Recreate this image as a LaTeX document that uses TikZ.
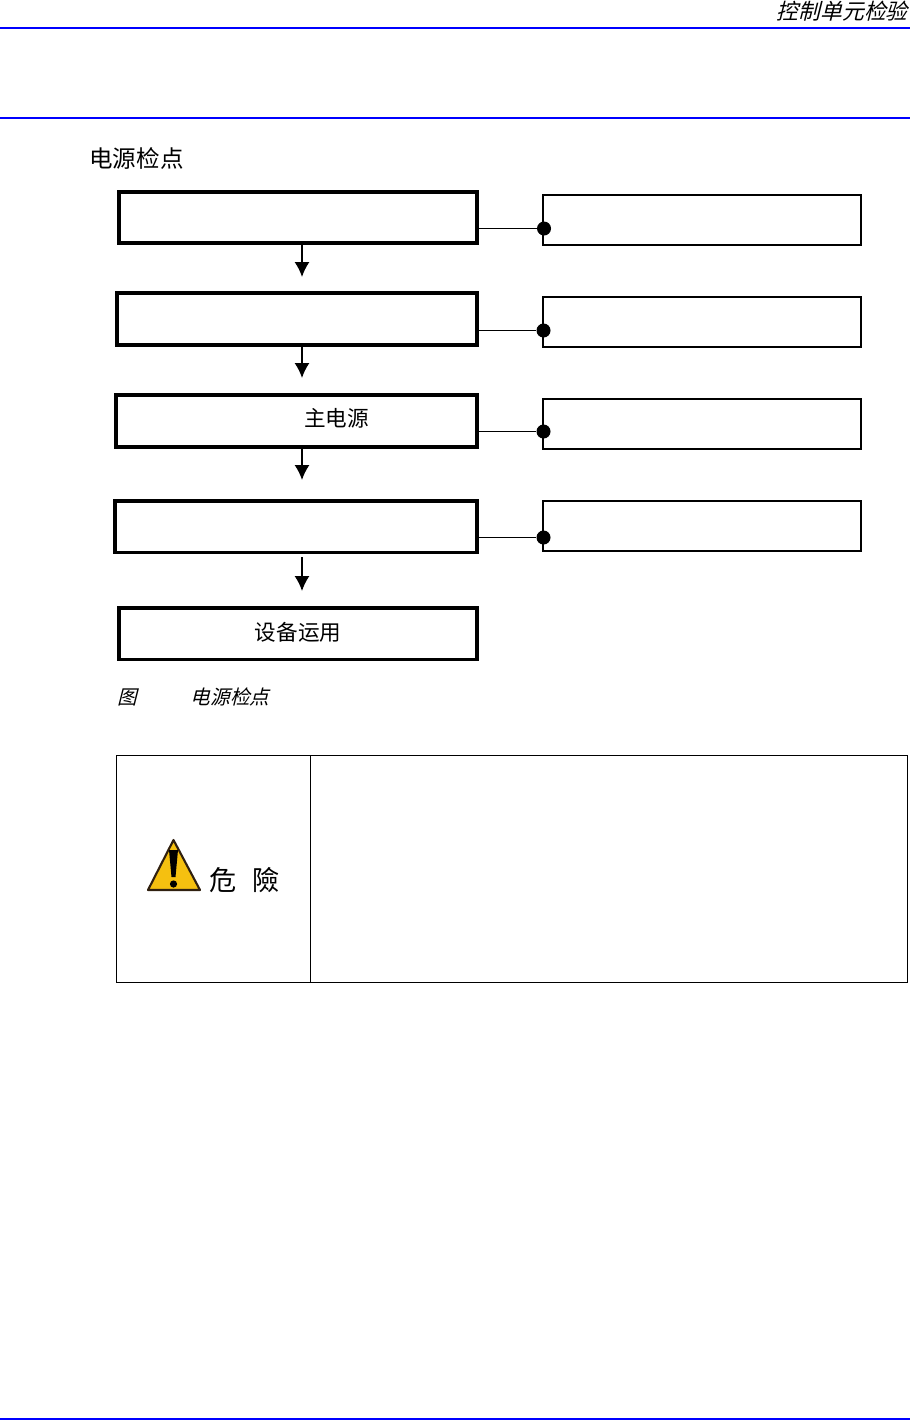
\documentclass[tikz,border=0pt]{standalone}
\usepackage{fontspec}
\setmainfont{Noto Sans CJK SC}
\newfontfamily\cjkslant[FakeSlant=0.25]{Noto Sans CJK SC}
\usetikzlibrary{arrows.meta}
\usetikzlibrary{calc}

\tikzset{
	boxsize/.style 2 args={minimum width=#1*0.02cm, minimum height=#2*0.02cm, inner sep=0pt},
	mainbox/.style={draw, line width=2pt},
	sidebox/.style={draw, line width=1.1pt},
	cellbox/.style={draw, line width=0.55pt},
	pointdot/.style={circle, fill=black, inner sep=0pt, minimum size=14*0.02cm},
	joinline/.style={line width=0.55pt},
	flowline/.style={line width=0.9pt, -{Latex[length=8.5pt, width=8.5pt]}},
	rule/.style={blue, line width=1.2pt},
	boxtext/.style={inner sep=0pt, font=\fontsize{12.3pt}{14pt}\selectfont},
}

\begin{document}
\begin{tikzpicture}[x=0.02cm, y=-0.02cm]
	\useasboundingbox (0,0) rectangle (910,1420);
	
	% page rules
	\coordinate (L1) at (0,28);
	\coordinate (R1) at (910,28);
	\coordinate (L2) at (0,118);
	\coordinate (R2) at (910,118);
	\coordinate (L3) at (0,1419);
	\coordinate (R3) at (910,1419);
	\draw[rule] (L1) -- (R1);
	\draw[rule] (L2) -- (R2);
	\draw[rule] (L3) -- (R3);
	
	% header and title
	\node[boxtext, anchor=east, font=\cjkslant\fontsize{12.4pt}{14pt}\selectfont] (head) at (908,11) {控制单元检验};
	\node[boxtext, font=\fontsize{13.4pt}{15pt}\selectfont] (title) at (136.5,158.5) {电源检点};
	
	% main boxes
	\node[mainbox, boxsize={358.5}{51.5}] (step1) at (298,217.5) {};
	\node[mainbox, boxsize={360.5}{51.5}] (step2) at (297,319) {};
	\node[mainbox, boxsize={361.5}{51.5}] (step3) at (296.5,421) {};
	\node[mainbox, boxsize={362.5}{51.5}] (step4) at (296,526.5) {};
	\node[mainbox, boxsize={358.5}{51.5}] (step5) at (298,633.5) {};
	\node[boxtext] (mainpower) at (336.5,418) {主电源};
	\node[boxtext] (running) at (298,632) {设备运用};
	
	% side boxes
	\node[sidebox, boxsize={318}{50}] (side1) at (702,220.3) {};
	\node[sidebox, boxsize={318}{50.5}] (side2) at (702,321.8) {};
	\node[sidebox, boxsize={318}{50.5}] (side3) at (702,423.8) {};
	\node[sidebox, boxsize={318}{50}] (side4) at (702,526.3) {};
	
	% dots on the side boxes
	\node[pointdot] (dot1) at (544,228.5) {};
	\node[pointdot] (dot2) at (543.5,330.5) {};
	\node[pointdot] (dot3) at (543.5,431.5) {};
	\node[pointdot] (dot4) at (543.5,537.5) {};
	\draw[joinline] (step1.east |- dot1) -- (dot1);
	\draw[joinline] (step2.east |- dot2) -- (dot2);
	\draw[joinline] (step3.east |- dot3) -- (dot3);
	\draw[joinline] (step4.east |- dot4) -- (dot4);
	
	% arrows between the main boxes
	\coordinate (tip1) at (302,277);
	\coordinate (tip2) at (302,378);
	\coordinate (tip3) at (302,480);
	\coordinate (top4) at (302,557);
	\coordinate (tip4) at (302,591);
	\draw[flowline] (step1.south -| tip1) -- (tip1);
	\draw[flowline] (step2.south -| tip2) -- (tip2);
	\draw[flowline] (step3.south -| tip3) -- (tip3);
	\draw[flowline] (top4) -- (tip4);
	
	% caption
	\node[boxtext, font=\cjkslant\fontsize{11.2pt}{13pt}\selectfont] (figword) at (127.5,697) {图};
	\node[boxtext, font=\cjkslant\fontsize{11.2pt}{13pt}\selectfont] (figname) at (230,697) {电源检点};
	
	% warning table
	\node[cellbox, boxsize={194}{227}] (signcell) at (213.5,868.5) {};
	\node[cellbox, boxsize={597}{227}] (textcell) at (609,868.5) {};
	
	% warning sign
	\coordinate (T) at (173.5,840);
	\coordinate (TL) at (148,890);
	\coordinate (TR) at (200,890);
	\fill[draw=black!75!brown, line width=1.2pt, line join=round, fill={rgb,255:red,245;green,192;blue,16}] (T) -- (TR) -- (TL) -- cycle;
	\fill[black] (169,850) -- (178,850) -- (175.5,877) -- (171.5,877) -- cycle;
	\fill[black] (173.5,884) circle (3.6);
	\node[boxtext, font=\fontsize{15.5pt}{18pt}\selectfont] (dangera) at (223.5,880) {危};
	\node[boxtext, font=\fontsize{15.5pt}{18pt}\selectfont] (dangerb) at (266,880) {險};
\end{tikzpicture}
\end{document}
